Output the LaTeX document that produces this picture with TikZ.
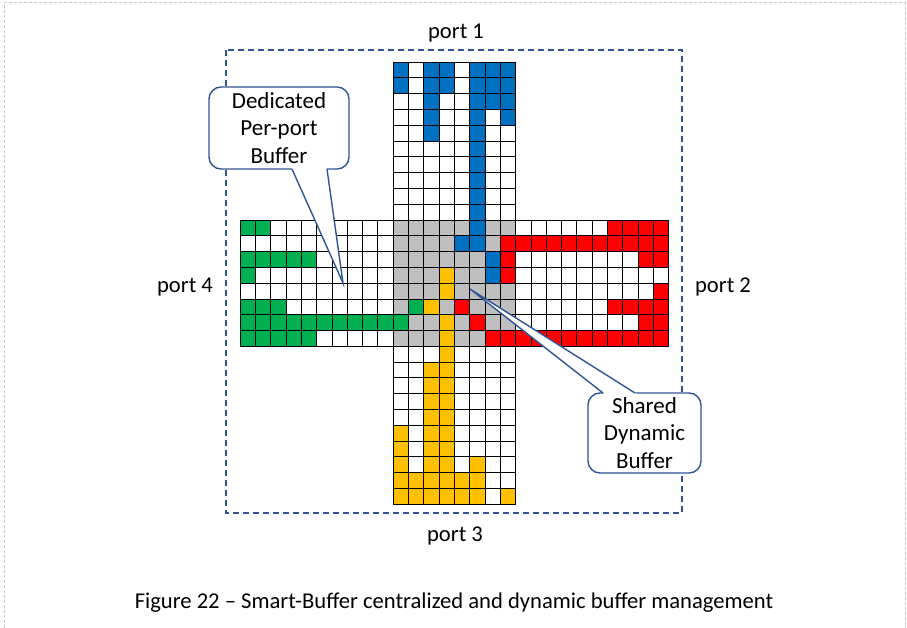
\documentclass[tikz,border=0pt]{standalone}
\usepackage{fontspec}
\setmainfont{Carlito}
\definecolor{cblue}{HTML}{0070C0}
\definecolor{cred}{HTML}{FF0000}
\definecolor{cgreen}{HTML}{00B050}
\definecolor{cyellow}{HTML}{FFC000}
\definecolor{cgray}{HTML}{BFBFBF}
\definecolor{cline}{HTML}{2F5597}
\definecolor{cframe}{HTML}{C8C8C8}
\newcommand\cellat[3]{\filldraw[fill=#3,draw=black,line width=0.7pt] ({240+#1*15.31},{62+#2*15.79}) rectangle ++(15.31,15.79);}
\tikzset{
  lbl/.style={font=\fontsize{22.6}{26}\selectfont, inner sep=0pt, anchor=base},
  cobox/.style={draw=cline, line width=1.4pt, fill=white, rounded corners=12pt, inner sep=0pt},
  cotext/.style={font=\fontsize{23}{27.7}\selectfont, align=center, inner sep=0pt},
  coline/.style={draw=cline, line width=1.4pt, line join=miter},
  portframe/.style={draw=cline, line width=1.3pt, dash pattern=on 6pt off 4pt},
  outframe/.style={draw=cframe, line width=1pt, dash pattern=on 3pt off 2pt}
}
\begin{document}
\begin{tikzpicture}[x=1pt,y=-1pt]
\useasboundingbox (0,0) rectangle (907,628);
% outer frame
\draw[outframe] (4,628) -- (4,3) -- (905,3) -- (905,628);
% dashed port frame
\draw[portframe] (226,50) rectangle (682,513);
% base cells
\foreach \c in {10,...,17} {\foreach \r in {0,...,9,18,19,...,27} {\cellat{\c}{\r}{white}}}
\foreach \c in {0,...,9,18,19,...,27} {\foreach \r in {10,...,17} {\cellat{\c}{\r}{white}}}
\foreach \c in {10,...,17} {\foreach \r in {10,...,17} {\cellat{\c}{\r}{cgray}}}
% blue
\foreach \c in {10,12,13,15,16,17} {\cellat{\c}{0}{cblue}\cellat{\c}{1}{cblue}}
\foreach \c in {12,15,16,17} {\cellat{\c}{2}{cblue}}
\foreach \c in {12,15,17} {\cellat{\c}{3}{cblue}}
\foreach \c in {12,15} {\cellat{\c}{4}{cblue}}
\foreach \r in {5,...,11} {\cellat{15}{\r}{cblue}}
\cellat{14}{11}{cblue}\cellat{16}{12}{cblue}\cellat{16}{13}{cblue}
% red
\foreach \c in {24,...,27} {\cellat{\c}{10}{cred}\cellat{\c}{15}{cred}}
\foreach \c in {17,...,27} {\cellat{\c}{11}{cred}}
\foreach \c in {16,...,27} {\cellat{\c}{17}{cred}}
\foreach \c in {17,26,27} {\cellat{\c}{12}{cred}}
\cellat{17}{13}{cred}\cellat{27}{14}{cred}\cellat{14}{15}{cred}
\foreach \c in {15,26,27} {\cellat{\c}{16}{cred}}
% green
\cellat{0}{10}{cgreen}\cellat{1}{10}{cgreen}\cellat{0}{13}{cgreen}
\foreach \c in {0,...,4} {\cellat{\c}{12}{cgreen}\cellat{\c}{17}{cgreen}}
\foreach \c in {0,1,2,11} {\cellat{\c}{15}{cgreen}}
\foreach \c in {0,...,10} {\cellat{\c}{16}{cgreen}}
% yellow
\foreach \r in {13,14,16,17,18,19,20,21,22,23,24,25,26,27} {\cellat{13}{\r}{cyellow}}
\cellat{12}{15}{cyellow}
\foreach \r in {19,...,27} {\cellat{12}{\r}{cyellow}}
\foreach \r in {23,...,27} {\cellat{10}{\r}{cyellow}}
\foreach \r in {26,27} {\cellat{11}{\r}{cyellow}\cellat{14}{\r}{cyellow}}
\foreach \r in {25,26,27} {\cellat{15}{\r}{cyellow}}
\cellat{17}{27}{cyellow}
% port labels
\node[lbl] (p1) at (456,39) {port 1};
\node[lbl] (p2) at (723,292) {port 2};
\node[lbl] (p3) at (455,541) {port 3};
\node[lbl] (p4) at (185,292) {port 4};
% callout 1
\node[cobox, minimum width=140pt, minimum height=82pt] (ded) at (279,128) {};
\coordinate (dedtip) at (343,283);
\fill[white] (291.55,168) -- (dedtip) -- (326.86,168) -- cycle;
\draw[coline] (292,169) -- (dedtip) -- (327,169);
\node[cotext] (dedt) at (279,128) {Dedicated\\Per-port\\Buffer};
% callout 2
\node[cobox, minimum width=113pt, minimum height=80pt] (shd) at (644.5,433) {};
\coordinate (shdtip) at (470,289);
\fill[white] (604.9,394.5) -- (shdtip) -- (637.4,394.5) -- cycle;
\draw[coline] (603,393) -- (shdtip) -- (635,393);
\node[cotext] (shdt) at (644.5,433) {Shared\\Dynamic\\Buffer};
% caption
\node[lbl] (cap) at (454,608) {Figure 22 – Smart-Buffer centralized and dynamic buffer management};
\end{tikzpicture}
\end{document}
